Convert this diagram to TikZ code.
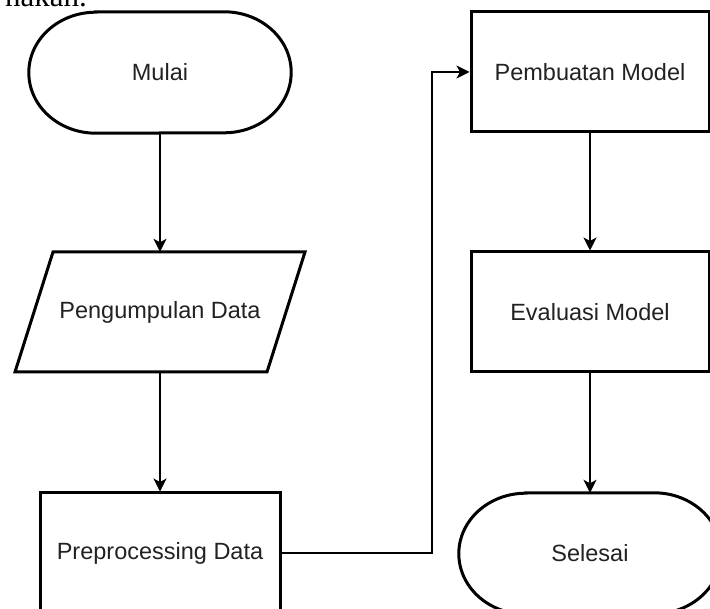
\documentclass[tikz,border=0pt]{standalone}
\usepackage{fontspec}
\setmainfont{Liberation Sans}
\newfontfamily\seriffont{Liberation Serif}
\usetikzlibrary{arrows.meta}
\definecolor{txt}{HTML}{222222}
\tikzset{
  boxshape/.style={draw=black, line width=3pt, minimum width=238pt, minimum height=120pt, inner sep=0pt, text=txt, font=\fontsize{23.5}{28}\selectfont},
  termshape/.style={inner sep=0pt, minimum width=262pt, minimum height=121pt, text=txt, font=\fontsize{23.5}{28}\selectfont},
  textonly/.style={inner sep=0pt, minimum width=200pt, minimum height=120pt, text=txt, font=\fontsize{23.5}{28}\selectfont},
  outline/.style={draw=black, line width=3pt, line join=miter},
  flowarrow/.style={draw=black, line width=1.4pt, -{Stealth[length=13pt,width=13pt,inset=3.5pt]}},
}
\newcommand{\termoutline}[1]{%
  \draw[outline] ([xshift=67pt]#1.north west) -- ([xshift=-67pt]#1.north east)
    arc[start angle=90, end angle=-90, x radius=67pt, y radius=60.5pt]
    -- ([xshift=67pt]#1.south west)
    arc[start angle=270, end angle=90, x radius=67pt, y radius=60.5pt] -- cycle;}
\begin{document}
\begin{tikzpicture}[x=1pt,y=-1pt]
\useasboundingbox (0,0) rectangle (710,609);
\fill[white] (0,0) rectangle (710,609);
\clip (0,0) rectangle (710,609);
% cut-off page text
\node[anchor=base east, inner sep=0pt, font=\seriffont\fontsize{31}{36}\selectfont] (pagetxt) at (87,7) {nakan.};
% nodes
\node[termshape] (mulai) at (160,72.5) {Mulai};
\termoutline{mulai}
\draw[outline] (53,252) -- (305,252) -- (267,372) -- (15,372) -- cycle;
\node[textonly] (pd) at (160,312) {Pengumpulan Data};
\node[boxshape, minimum width=240pt] (pp) at (160,553) {Preprocessing Data};
\node[boxshape] (pm) at (590,72) {Pembuatan Model};
\node[boxshape] (em) at (590,312) {Evaluasi Model};
\node[termshape] (sel) at (590,553.5) {Selesai};
\termoutline{sel}
\coordinate (bendx) at (432,0);
% connectors
\draw[flowarrow] (mulai.south) -- (pd.north);
\draw[flowarrow] (pd.south) -- (pp.north);
\draw[flowarrow] (pp.east) -- (pp.east -| bendx) |- (pm.west);
\draw[flowarrow] (pm.south) -- (em.north);
\draw[flowarrow] (em.south) -- (sel.north);
\end{tikzpicture}
\end{document}
